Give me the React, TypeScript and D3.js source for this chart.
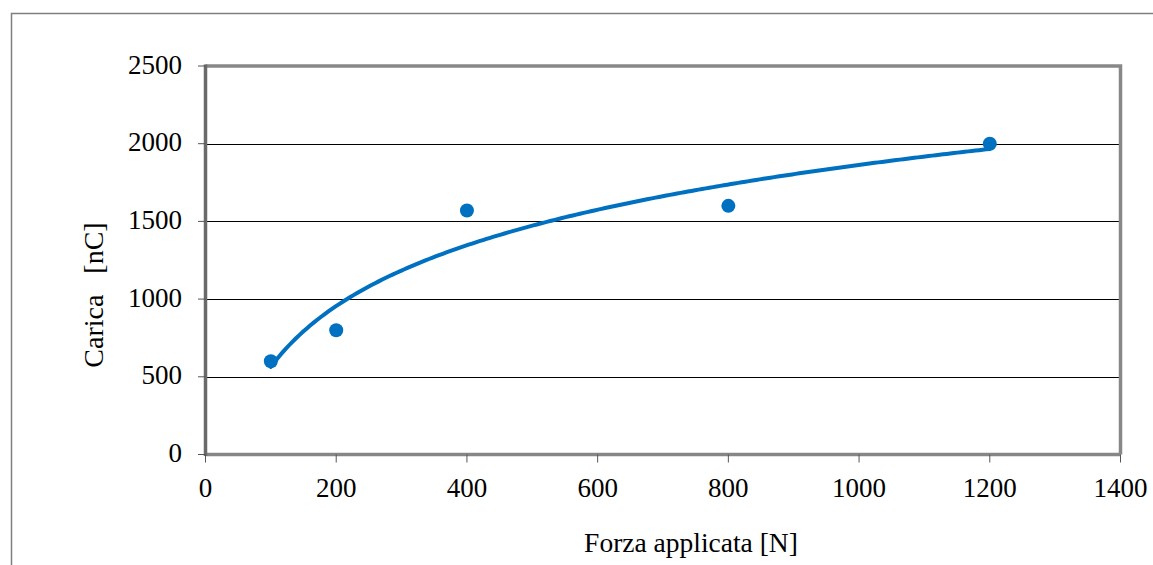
import React from "react";
import * as d3 from "d3";

const forceN = [100, 200, 400, 800, 1200];
const chargeNC = [600, 800, 1570, 1600, 2000];
const xTicks = [0, 200, 400, 600, 800, 1000, 1200, 1400];
const yTicks = [0, 500, 1000, 1500, 2000, 2500];
const xTitle = "Forza applicata [N]";
const yTitle = "Carica\u00a0\u00a0\u00a0[nC]";

const W = 1153;
const H = 565;
const L = 205.5, R = 1120.5, T = 66, B = 454.5;
const BLUE = "#0070C0";
const FONT = "'Liberation Serif', 'Times New Roman', serif";

// logarithmic trendline (least squares on ln x)
function logFit(xs: number[], ys: number[]) {
  const lx = xs.map(Math.log);
  const mx = d3.mean(lx)!;
  const my = d3.mean(ys)!;
  let sxy = 0, sxx = 0;
  lx.forEach((v, i) => { sxy += (v - mx) * (ys[i] - my); sxx += (v - mx) ** 2; });
  const b = sxy / sxx;
  const a = my - b * mx;
  return (x: number) => a + b * Math.log(x);
}

export default function App() {
  const x = d3.scaleLinear().domain([0, 1400]).range([L, R]);
  const y = d3.scaleLinear().domain([0, 2500]).range([B, T]);
  const f = logFit(forceN, chargeNC);
  const x0 = d3.min(forceN)!, x1 = d3.max(forceN)!;
  const trend = d3.range(0, 201).map((i) => {
    const xv = x0 + ((x1 - x0) * i) / 200;
    return [xv, f(xv)] as [number, number];
  });
  const line = d3.line<[number, number]>().x((d) => x(d[0])).y((d) => y(d[1])).curve(d3.curveLinear);

  return (
    <svg width={W} height={H} style={{ position: "fixed", left: 0, top: 0, background: "#fff" }}>
      <rect x={0} y={0} width={W} height={H} fill="#fff" />
      {/* outer frame */}
      <path d={`M11.5,${H} L11.5,13.5 L${W},13.5`} fill="none" stroke="#7f7f7f" strokeWidth={1.5} />
      {/* gridlines */}
      {yTicks.filter((t) => t > 0 && t < 2500).map((t) => (
        <line key={t} x1={L} x2={R} y1={Math.round(y(t)) + 0.5} y2={Math.round(y(t)) + 0.5} stroke="#000" strokeWidth={1} />
      ))}
      {/* plot border top/right */}
      <path d={`M${L},${T} L${R},${T} L${R},${B}`} fill="none" stroke="#888" strokeWidth={3.5} />
      {/* axes */}
      <line x1={L} x2={R} y1={B} y2={B} stroke="#868686" strokeWidth={3.5} />
      <line x1={L} x2={L} y1={T - 1.5} y2={B + 1.5} stroke="#6a6a6a" strokeWidth={3.5} />
      {/* y ticks */}
      {yTicks.map((t) => (
        <g key={t}>
          <line x1={198} x2={L} y1={y(t)} y2={y(t)} stroke="#555" strokeWidth={1} />
          <text x={182} y={y(t) + 7.5} textAnchor="end" fontFamily={FONT} fontSize={27} fill="#000">{t}</text>
        </g>
      ))}
      {/* x ticks */}
      {xTicks.map((t) => (
        <g key={t}>
          <line x1={x(t)} x2={x(t)} y1={B} y2={B + 8} stroke="#555" strokeWidth={1} />
          <text x={x(t)} y={497} textAnchor="middle" fontFamily={FONT} fontSize={27} fill="#000">{t}</text>
        </g>
      ))}
      {/* trendline */}
      <path d={line(trend) || ""} fill="none" stroke={BLUE} strokeWidth={4} strokeLinecap="round" />
      {/* points */}
      {forceN.map((fv, i) => (
        <circle key={fv} cx={x(fv)} cy={y(chargeNC[i])} r={7} fill={BLUE} />
      ))}
      {/* titles */}
      <text x={691} y={552} textAnchor="middle" fontFamily={FONT} fontSize={27.5} fill="#000">{xTitle}</text>
      <text transform={`translate(103,295) rotate(-90)`} textAnchor="middle" fontFamily={FONT} fontSize={28} fill="#000">{yTitle}</text>
    </svg>
  );
}
